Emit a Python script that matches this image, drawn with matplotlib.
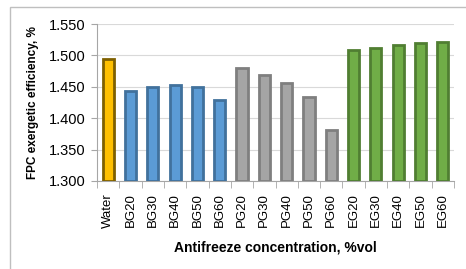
""" FPC exergetic efficiency by antifreeze """
import matplotlib
matplotlib.use('Agg')
import matplotlib.pyplot as plt
import numpy as np
from matplotlib.patches import Rectangle

labels = ['Water', 'BG20', 'BG30', 'BG40', 'BG50', 'BG60',
          'PG20', 'PG30', 'PG40', 'PG50', 'PG60',
          'EG20', 'EG30', 'EG40', 'EG50', 'EG60']
values = [1.495, 1.444, 1.450, 1.453, 1.450, 1.429,
          1.480, 1.468, 1.456, 1.434, 1.382,
          1.509, 1.512, 1.517, 1.519, 1.521]
groups = ['W'] + ['BG'] * 5 + ['PG'] * 5 + ['EG'] * 5

fills = {'W': '#FFC000', 'BG': '#5B9BD5', 'PG': '#A5A5A5', 'EG': '#70AD47'}
edges = {'W': '#7F6000', 'BG': '#41719C', 'PG': '#7F7F7F', 'EG': '#507E32'}

plt.rcParams['font.family'] = ['Liberation Sans', 'DejaVu Sans']

W, H = 466, 269
fig = plt.figure(figsize=(W / 100, H / 100), dpi=100)
ax = fig.add_axes([97 / W, 1 - 181 / H, (454 - 97) / W, (181 - 24) / H])

# outer chart border
fig.patches.append(Rectangle((10 / W, -0.1), 1.2, 1 - 7 / H + 0.1,
                             transform=fig.transFigure, fill=False,
                             edgecolor='#BFBFBF', linewidth=1))

x = np.arange(len(labels))
ax.bar(x, [v - 1.3 for v in values], bottom=1.3, width=0.5,
       color=[fills[g] for g in groups],
       edgecolor=[edges[g] for g in groups], linewidth=2, zorder=3)

ax.set_xlim(-0.5, len(labels) - 0.5)
ax.set_ylim(1.3, 1.55)
ax.set_yticks(np.arange(1.30, 1.551, 0.05))
ax.set_yticklabels(['%.3f' % t for t in np.arange(1.30, 1.551, 0.05)],
                   fontsize=10.5)
ax.yaxis.grid(True, color='#D9D9D9', linewidth=0.8, zorder=0)

ax.set_xticks(x)
ax.set_xticklabels(labels, rotation=90, fontsize=9.5)
ax.set_xticks(np.arange(-0.5, len(labels)), minor=True)
ax.tick_params(axis='x', which='major', length=0, pad=9)
ax.tick_params(axis='x', which='minor', length=5, color='#A6A6A6')
ax.tick_params(axis='y', length=4, color='#A6A6A6', pad=4)

for s in ['top', 'right']:
    ax.spines[s].set_visible(False)
for s in ['left', 'bottom']:
    ax.spines[s].set_color('#A6A6A6')

ax.set_ylabel('FPC exergetic efficiency, %', fontsize=8.5,
              fontweight='bold', labelpad=7)
ax.set_xlabel('Antifreeze concentration, %vol', fontsize=10,
              fontweight='bold', labelpad=9)

fig.savefig('out.png', dpi=100)
